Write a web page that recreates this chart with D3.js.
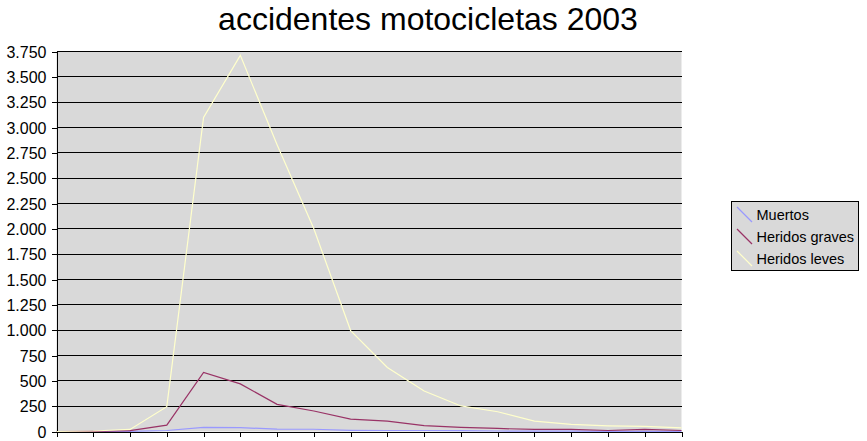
<!DOCTYPE html>
<html>
<head>
<meta charset="utf-8">
<script src="https://cdn.jsdelivr.net/npm/d3@7"></script>
<style>
  html, body { margin: 0; padding: 0; background: #fff; }
  svg { display: block; font-family: "Liberation Sans", Arial, sans-serif; }
</style>
</head>
<body>
<svg id="chart" width="867" height="441"></svg>
<script>
// ---- data ----
const title = "accidentes motocicletas 2003";
const categories = ["1","2","3","4","5","6","7","8","9","10","11","12","13","14","15","16","17","18"];
const seriesNames = ["Muertos", "Heridos graves", "Heridos leves"];
const muertos       = [0, 0, 2, 10, 40, 38, 23, 22, 12, 10, 10, 8, 5, 3, 3, 2, 2, 2];
const heridosGraves = [0, 2, 8, 63, 583, 470, 268, 202, 122, 103, 58, 40, 30, 20, 20, 10, 20, 10];
const heridosLeves  = [0, 5, 20, 245, 3100, 3712, 2830, 2000, 996, 632, 400, 252, 195, 103, 70, 56, 50, 36];
const yTicks = [0, 250, 500, 750, 1000, 1250, 1500, 1750, 2000, 2250, 2500, 2750, 3000, 3250, 3500, 3750];
const seriesColors = ["#9999FF", "#993366", "#FFFFCC"];

const seriesValues = [muertos, heridosGraves, heridosLeves];

// ---- layout ----
const svg = d3.select("#chart");
const plot = { left: 56.5, right: 681.5, top: 51.5, bottom: 431.5 };

const x = d3.scalePoint().domain(categories).range([plot.left, plot.right]);
const y = d3.scaleLinear().domain([0, 3750]).range([plot.bottom, plot.top]);

const locale = d3.formatLocale({ decimal: ",", thousands: ".", grouping: [3], currency: ["", ""] });
const fmt = locale.format(",d");

// plot background
svg.append("rect")
  .attr("x", plot.left).attr("y", plot.top)
  .attr("width", plot.right - plot.left).attr("height", plot.bottom - plot.top)
  .attr("fill", "#D9D9D9");

// gridlines
svg.append("g")
  .attr("shape-rendering", "crispEdges")
  .selectAll("line").data(yTicks.filter(d => d > 0)).join("line")
  .attr("x1", plot.left).attr("x2", plot.right)
  .attr("y1", d => Math.round(y(d)) + 0.5 - 0.5).attr("y2", d => Math.round(y(d)))
  .attr("y1", d => y(d)).attr("y2", d => y(d))
  .attr("stroke", "#000").attr("stroke-width", 1);

// y axis
const yAxis = d3.axisLeft(y).tickValues(yTicks).tickFormat(fmt).tickSize(5).tickPadding(5);
const gy = svg.append("g").attr("transform", `translate(${plot.left},0)`).call(yAxis);
gy.select(".domain").attr("stroke", "#000").attr("shape-rendering", "crispEdges");
gy.selectAll(".tick line").attr("stroke", "#000").attr("shape-rendering", "crispEdges");
gy.selectAll(".tick text")
  .attr("fill", "#000")
  .style("font-family", "'Liberation Sans', Arial, sans-serif")
  .style("font-size", "16px")
  .attr("dy", "0.36em");

// x axis
const xAxis = d3.axisBottom(x).tickFormat("").tickSizeInner(5).tickSizeOuter(0);
const gx = svg.append("g").attr("transform", `translate(0,${plot.bottom})`).call(xAxis);
gx.select(".domain").attr("stroke", "#000").attr("shape-rendering", "crispEdges");
gx.selectAll(".tick line").attr("stroke", "#000").attr("shape-rendering", "crispEdges");

// lines
const line = d3.line()
  .x((d, i) => x(categories[i]))
  .y(d => y(d));

svg.append("g").selectAll("path").data(seriesValues).join("path")
  .attr("d", d => line(d))
  .attr("fill", "none")
  .attr("stroke", (d, i) => seriesColors[i])
  .attr("stroke-width", 1.2);

// title
svg.append("text")
  .attr("x", 428).attr("y", 30)
  .attr("text-anchor", "middle")
  .style("font-size", "32px")
  .attr("fill", "#000")
  .text(title);

// legend
const lg = svg.append("g");
lg.append("rect")
  .attr("x", 731.5).attr("y", 201.5).attr("width", 127).attr("height", 69)
  .attr("fill", "#D9D9D9").attr("stroke", "#000").attr("stroke-width", 1)
  .attr("shape-rendering", "crispEdges");

const legendY = d3.scalePoint().domain(seriesNames).range([214.5, 258.5]);
const items = lg.selectAll("g.item").data(seriesNames).join("g").attr("class", "item");
items.append("line")
  .attr("x1", 737).attr("x2", 752)
  .attr("y1", d => legendY(d) - 7.5).attr("y2", d => legendY(d) + 7.5)
  .attr("stroke", (d, i) => seriesColors[i]).attr("stroke-width", 1.2);
items.append("text")
  .attr("x", 756.5).attr("y", d => legendY(d))
  .attr("dy", "0.36em")
  .style("font-size", "14.5px")
  .attr("fill", "#000")
  .text(d => d);
</script>
</body>
</html>
